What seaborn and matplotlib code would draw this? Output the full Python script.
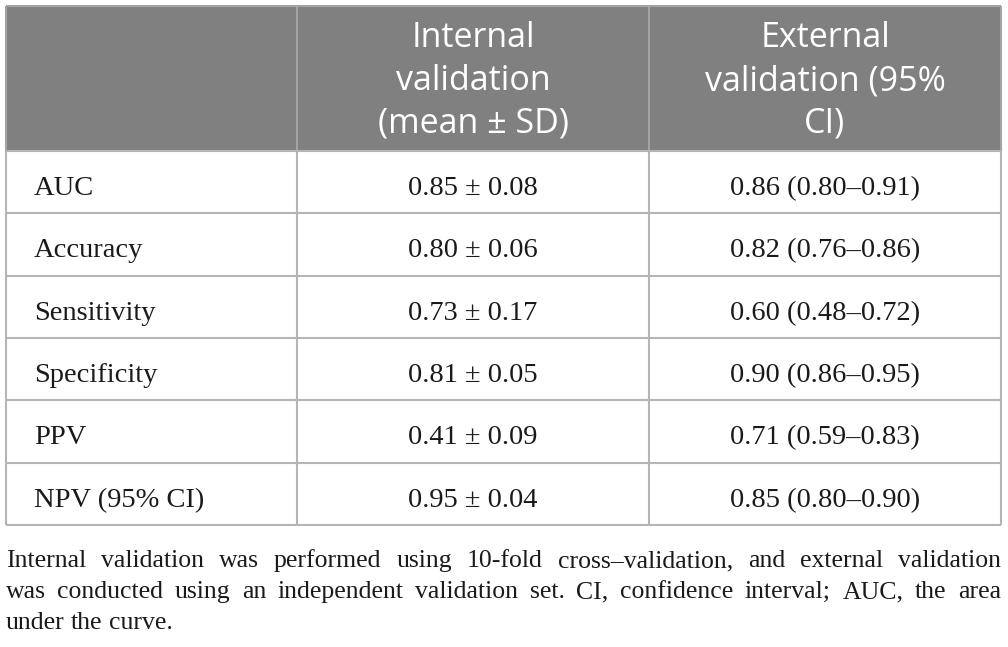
import matplotlib
matplotlib.use("Agg")
import matplotlib.pyplot as plt
from matplotlib.patches import Rectangle
import seaborn as sns

# ---- data ----
metrics = ["AUC", "Accuracy", "Sensitivity", "Specificity", "PPV", "NPV (95% CI)"]
internal_mean = [0.85, 0.80, 0.73, 0.81, 0.41, 0.95]
internal_sd = [0.08, 0.06, 0.17, 0.05, 0.09, 0.04]
external_est = [0.86, 0.82, 0.60, 0.90, 0.71, 0.85]
external_lo = [0.80, 0.76, 0.48, 0.86, 0.59, 0.80]
external_hi = [0.91, 0.86, 0.72, 0.95, 0.83, 0.90]
header_internal = ["Internal", "validation", "(mean \u00b1 SD)"]
header_external = ["External", "validation (95%", "CI)"]
footnote_lines = [
    "Internal validation was performed using 10-fold cross\u2013validation, and external validation",
    "was conducted using an independent validation set. CI, confidence interval; AUC, the area",
    "under the curve.",
]

sns.set_theme(style="white")
plt.rcParams["font.family"] = ["Liberation Serif", "DejaVu Serif"]

W, H = 1008, 647
fig = plt.figure(figsize=(W / 100, H / 100), dpi=100)
ax = fig.add_axes([0, 0, 1, 1])
ax.set_xlim(0, W)
ax.set_ylim(H, 0)
ax.axis("off")

# layout
x0, x1, x2, x3 = 6, 297, 649, 1001
top, head_bot, bot = 6, 151, 525
nrows = len(metrics)
rh = (bot - head_bot) / nrows

header_gray = "#808080"
line_col = "#b5b5b5"
head_line_col = "#a3a3a3"

ax.add_patch(Rectangle((x0, top), x3 - x0, head_bot - top, facecolor=header_gray,
                       edgecolor="none", zorder=1))
# grid lines
ax.vlines([x1, x2], top, head_bot, colors=head_line_col, lw=1.5, zorder=2)
ax.vlines([x0, x1, x2, x3], head_bot, bot, colors=line_col, lw=1.5, zorder=2)
ax.vlines([x0, x3], top, head_bot, colors=head_line_col, lw=1.5, zorder=2)
ax.hlines([top], x0, x3, colors=head_line_col, lw=1.5, zorder=2)
ax.hlines([head_bot + i * rh for i in range(nrows + 1)], x0, x3, colors=line_col,
          lw=1.5, zorder=2)

# header text
hfont = dict(family=["Open Sans", "DejaVu Sans"], fontsize=24.5, color="white",
             ha="center", va="baseline", zorder=3)
for i, (a, b) in enumerate(zip(header_internal, header_external)):
    yb = 47 + i * 43
    ax.text((x1 + x2) / 2, yb, a, **hfont)
    ax.text((x2 + x3) / 2, yb, b, **hfont)

# body
bfont = dict(fontsize=20.5, color="#1a1a1a", va="baseline", zorder=3)
for i, m in enumerate(metrics):
    yb = head_bot + i * rh + 44
    ax.text(34, yb, m, ha="left", **bfont)
    ax.text((x1 + x2) / 2, yb, f"{internal_mean[i]:.2f} \u00b1 {internal_sd[i]:.2f}",
            ha="center", **bfont)
    ax.text((x2 + x3) / 2, yb,
            f"{external_est[i]:.2f} ({external_lo[i]:.2f}\u2013{external_hi[i]:.2f})",
            ha="center", **bfont)

# footnote (justified)
fig.canvas.draw()
renderer = fig.canvas.get_renderer()
ffs = 18.5
fcol = "#1a1a1a"


def wwidth(s):
    t = ax.text(0, 0, s, fontsize=ffs)
    w = t.get_window_extent(renderer).width
    t.remove()
    return w


space_w = wwidth("a b") - wwidth("ab")
for li, line in enumerate(footnote_lines):
    yb = 567 + li * 31
    words = line.split(" ")
    widths = [wwidth(w) for w in words]
    if li < len(footnote_lines) - 1:
        gap = (x3 - x0 - sum(widths)) / (len(words) - 1)
    else:
        gap = space_w
    x = x0
    for w, wd in zip(words, widths):
        ax.text(x, yb, w, fontsize=ffs, color=fcol, ha="left", va="baseline")
        x += wd + gap

fig.savefig("out.png", dpi=100)
